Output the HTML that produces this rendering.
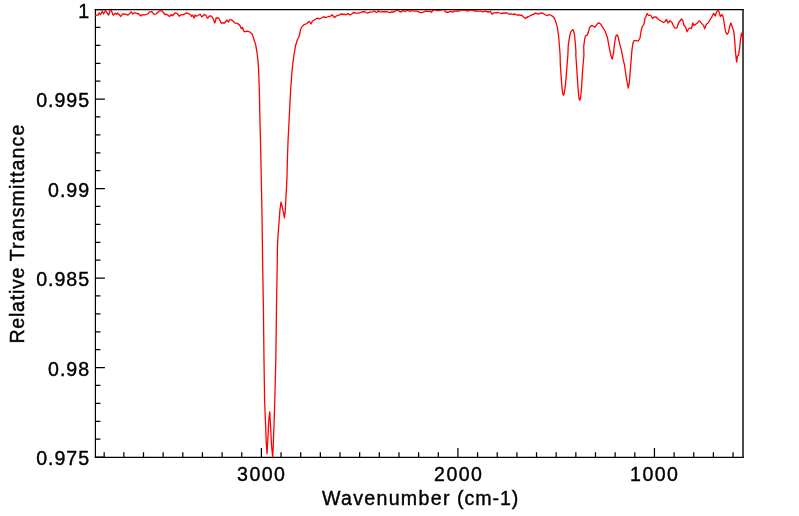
<!DOCTYPE html>
<html lang="en">
<head>
<meta charset="utf-8">
<title>IR spectrum</title>
<style>
html,body{margin:0;padding:0;background:#fff;}
body{width:799px;height:516px;position:relative;overflow:hidden;font-family:"Liberation Sans",sans-serif;color:#000;-webkit-text-stroke:0.4px #000;}
svg{position:absolute;left:0;top:0;}
.yl,.xl,.xt{will-change:transform;}
.yl{position:absolute;left:0;width:90px;height:24px;line-height:24px;text-align:right;font-size:19.6px;letter-spacing:0.95px;margin-right:-0.95px;white-space:nowrap;}
.xl{position:absolute;top:462px;width:80px;height:24px;line-height:24px;text-align:center;font-size:19.6px;letter-spacing:1.4px;text-indent:1.4px;white-space:nowrap;}
.xt{position:absolute;left:219.7px;top:486px;width:400px;height:24px;line-height:24px;text-align:center;font-size:19.6px;letter-spacing:1.19px;text-indent:1.19px;white-space:nowrap;}
.yt{position:absolute;left:17px;top:233.5px;width:0;height:0;}
.yt .rot{position:absolute;left:-150px;top:-12px;width:300px;height:24px;line-height:24px;text-align:center;font-size:19.6px;letter-spacing:0.93px;text-indent:0.93px;white-space:nowrap;transform:rotate(-90deg);transform-origin:50% 50%;}
.xt .a{letter-spacing:1.3px;}
.xt .b{letter-spacing:0.95px;}
.xt{word-spacing:-0.4px;}
.yt .a{letter-spacing:0.75px;}
.yt .b{letter-spacing:1.11px;}
.yt .rot{word-spacing:-0.9px;}
</style>
</head>
<body>
<svg width="799" height="516" viewBox="0 0 799 516">
<rect x="0" y="0" width="799" height="516" fill="#ffffff"/>
<defs><clipPath id="pc"><rect x="94.9" y="9.9" width="648.1" height="447.7"/></clipPath></defs>
<path d="M733.05,457.30v-5M713.40,457.30v-5M693.74,457.30v-5M674.09,457.30v-5M654.44,457.30v-9.3M634.79,457.30v-5M615.14,457.30v-5M595.48,457.30v-5M575.83,457.30v-5M556.18,457.30v-5M536.53,457.30v-5M516.88,457.30v-5M497.22,457.30v-5M477.57,457.30v-5M457.92,457.30v-9.3M438.27,457.30v-5M418.62,457.30v-5M398.96,457.30v-5M379.31,457.30v-5M359.66,457.30v-5M340.01,457.30v-5M320.36,457.30v-5M300.70,457.30v-5M281.05,457.30v-5M261.40,457.30v-9.3M241.75,457.30v-5M222.10,457.30v-5M202.44,457.30v-5M182.79,457.30v-5M163.14,457.30v-5M143.49,457.30v-5M123.84,457.30v-5M104.18,457.30v-5M95.40,9.55h9.5M95.40,27.45h5M95.40,45.35h5M95.40,63.25h5M95.40,81.15h5M95.40,99.05h9.5M95.40,116.95h5M95.40,134.85h5M95.40,152.75h5M95.40,170.65h5M95.40,188.55h9.5M95.40,206.45h5M95.40,224.35h5M95.40,242.25h5M95.40,260.15h5M95.40,278.05h9.5M95.40,295.95h5M95.40,313.85h5M95.40,331.75h5M95.40,349.65h5M95.40,367.55h9.5M95.40,385.45h5M95.40,403.35h5M95.40,421.25h5M95.40,439.15h5M95.40,457.05h9.5" fill="none" stroke="#000" stroke-width="1.25"/>
<path d="M94.80000000000001,9.6H743.7" stroke="#000" stroke-width="1.1" fill="none"/>
<path d="M95.4,9.1V458.0" stroke="#000" stroke-width="1.2" fill="none"/>
<path d="M94.80000000000001,457.3H743.7" stroke="#000" stroke-width="1.25" fill="none"/>
<path d="M743.0,9.1V458.0" stroke="#111" stroke-width="1.5" fill="none"/>
<path d="M94.98,15.18 L98.08,15.18 L99.24,12.85 L100.40,14.79 L102.34,11.30 L103.50,14.02 L105.44,10.72 L106.60,12.08 L108.54,15.18 L110.29,10.14 L111.26,10.33 L113.19,15.18 L115.13,13.24 L116.68,14.40 L117.50,13.00 L119.00,14.50 L120.80,16.50 L122.50,13.80 L125.00,14.20 L128.00,15.00 L129.50,13.80 L131.20,11.80 L132.80,14.00 L135.00,12.50 L137.00,13.50 L139.00,14.00 L140.80,16.00 L142.50,14.50 L144.00,15.20 L146.00,14.50 L148.00,13.80 L149.50,11.80 L152.00,11.60 L154.00,14.50 L156.00,13.80 L158.50,11.80 L161.00,10.20 L163.00,12.00 L165.00,14.50 L167.00,14.50 L169.50,16.50 L171.50,14.50 L172.50,15.80 L174.00,14.00 L175.50,12.80 L177.50,14.00 L179.20,16.20 L181.00,14.80 L184.00,14.50 L186.50,12.80 L189.00,13.80 L190.50,14.50 L191.50,16.50 L192.50,15.00 L194.00,18.00 L195.00,15.00 L196.20,16.20 L198.00,15.50 L200.00,14.20 L201.80,17.00 L204.50,14.50 L206.00,15.50 L207.50,18.20 L209.50,16.00 L211.50,16.20 L213.00,18.50 L214.80,23.00 L216.20,18.00 L218.50,17.80 L219.80,20.00 L221.00,23.00 L223.00,22.80 L224.50,23.00 L227.00,20.00 L228.50,22.00 L230.00,19.50 L232.00,20.20 L234.00,22.00 L235.00,23.02 L237.33,23.37 L239.65,25.12 L241.40,28.60 L242.56,27.44 L243.72,30.93 L244.88,31.86 L247.21,31.16 L250.12,32.09 L252.44,34.42 L254.19,40.23 L255.70,44.88 L257.09,53.02 L258.02,61.16 L258.60,70.00 L259.30,89.00 L259.90,118.00 L260.50,141.00 L260.90,160.00 L261.50,189.00 L262.05,218.00 L262.60,260.00 L263.40,308.00 L264.00,360.00 L264.60,400.00 L265.50,423.00 L266.30,444.00 L267.00,453.80 L267.80,440.00 L268.80,420.00 L269.70,411.80 L270.50,425.00 L271.50,445.00 L272.70,457.20 L273.30,444.00 L274.10,423.00 L274.80,400.00 L275.80,360.00 L276.50,308.00 L277.30,260.00 L277.40,249.10 L277.90,237.50 L278.90,224.00 L279.90,210.40 L281.00,202.20 L282.20,206.50 L283.40,212.30 L284.50,217.75 L285.30,210.40 L286.10,194.90 L286.90,179.40 L287.40,160.00 L288.00,141.40 L289.20,118.00 L290.70,89.00 L292.00,71.60 L293.14,61.16 L294.30,53.02 L295.47,46.05 L297.21,40.23 L298.95,36.74 L299.88,33.26 L300.70,29.19 L301.86,26.86 L304.19,24.53 L307.00,23.50 L308.50,21.80 L309.50,21.50 L311.00,24.00 L312.50,21.00 L315.00,19.50 L317.50,18.20 L319.50,18.80 L321.50,18.00 L323.50,16.80 L326.00,17.50 L328.50,16.50 L330.50,16.20 L332.00,14.80 L334.50,17.50 L336.50,15.80 L339.00,15.20 L341.00,14.00 L344.00,14.50 L346.50,14.50 L348.00,13.50 L350.00,15.00 L352.00,13.80 L353.50,12.50 L356.00,13.20 L359.00,13.20 L362.00,12.00 L364.50,11.50 L367.50,13.20 L370.00,12.20 L372.50,11.80 L374.50,11.00 L375.81,12.14 L376.98,12.33 L378.33,10.78 L379.69,11.95 L381.63,11.95 L383.57,11.75 L385.50,11.75 L387.44,11.95 L388.99,12.33 L390.54,12.72 L391.71,11.75 L393.26,12.14 L394.81,11.36 L396.36,10.40 L397.52,10.01 L398.68,10.78 L400.00,11.75 L401.59,11.75 L403.14,10.20 L404.30,11.17 L405.27,11.56 L406.24,10.78 L407.40,10.20 L408.95,10.98 L410.50,11.36 L411.67,10.40 L413.22,10.78 L415.16,11.17 L417.09,11.17 L418.64,11.95 L420.58,12.53 L422.13,12.53 L423.68,11.95 L425.00,11.36 L426.55,11.11 L428.49,11.30 L430.04,11.11 L431.40,12.27 L432.75,10.72 L434.30,9.75 L436.24,10.33 L438.57,10.72 L440.50,10.14 L442.05,9.56 L443.60,9.36 L444.38,9.75 L445.16,11.69 L446.71,12.27 L448.26,12.27 L449.81,11.69 L451.36,11.30 L452.71,12.27 L454.07,11.11 L455.00,10.91 L457.00,11.00 L459.00,11.20 L461.00,10.00 L465.00,10.00 L467.50,11.20 L471.00,9.80 L474.00,11.00 L478.00,11.20 L481.00,11.20 L483.00,11.80 L485.00,11.20 L488.00,12.00 L490.50,11.50 L492.00,14.20 L494.00,12.80 L498.00,12.50 L501.00,13.50 L504.00,13.00 L507.00,13.00 L509.00,14.20 L511.00,13.80 L513.00,14.50 L515.00,14.00 L517.00,15.20 L519.00,14.80 L520.50,15.50 L521.50,15.00 L523.50,17.00 L525.50,18.50 L527.50,16.80 L527.33,17.56 L530.23,15.70 L533.14,14.30 L535.47,13.14 L538.37,14.07 L541.28,12.91 L543.60,13.72 L545.93,15.23 L547.67,15.47 L549.42,14.53 L552.33,16.05 L554.07,17.79 L555.81,21.86 L557.33,27.09 L558.49,35.23 L559.30,44.53 L560.12,55.00 L560.31,64.69 L560.99,74.38 L561.67,84.07 L562.25,90.37 L562.83,93.95 L563.41,95.21 L564.09,93.95 L564.67,90.37 L565.54,84.07 L566.32,74.38 L567.09,64.69 L567.87,55.00 L568.26,45.70 L569.42,37.56 L570.58,32.33 L572.09,30.00 L573.26,30.00 L574.42,34.07 L575.23,42.21 L575.93,51.51 L575.81,55.00 L576.49,64.69 L577.17,74.38 L577.95,86.98 L578.53,94.24 L579.11,98.80 L579.69,100.35 L580.37,98.80 L580.95,94.24 L581.63,86.98 L582.31,74.38 L583.08,64.69 L583.95,55.00 L583.72,46.86 L584.53,39.88 L585.47,35.81 L587.21,35.23 L588.37,32.33 L589.53,27.67 L591.28,25.70 L593.02,25.93 L594.77,27.09 L595.00,27.09 L596.86,24.30 L598.88,22.75 L600.89,24.30 L602.75,27.40 L605.08,31.28 L607.40,37.48 L609.26,47.56 L610.81,55.31 L612.36,59.19 L613.60,52.21 L614.84,41.36 L615.93,35.93 L617.17,34.84 L618.26,37.48 L619.81,44.46 L621.67,51.43 L623.22,59.96 L624.46,64.61 L626.01,75.47 L627.25,83.22 L628.33,88.18 L629.42,81.67 L630.66,66.16 L631.90,50.66 L632.98,42.91 L634.07,40.58 L636.09,40.58 L638.10,41.05 L639.96,38.26 L641.20,30.50 L642.29,26.63 L643.84,24.30 L644.92,19.65 L644.50,19.00 L646.00,16.50 L647.20,13.50 L648.50,15.50 L650.00,15.00 L651.00,15.80 L652.50,18.50 L654.50,16.80 L656.50,17.20 L658.50,19.50 L661.00,21.00 L663.50,22.50 L665.00,21.50 L666.50,19.50 L668.00,23.00 L670.00,20.80 L672.00,22.50 L673.50,26.00 L675.00,28.20 L677.00,27.80 L678.50,23.00 L680.00,21.00 L681.50,19.00 L682.80,20.50 L683.80,25.00 L685.50,27.00 L687.00,31.80 L688.50,29.00 L690.00,28.00 L691.50,28.50 L692.80,22.80 L694.00,25.50 L696.00,24.00 L697.50,23.00 L699.00,20.80 L700.00,21.28 L701.74,23.60 L703.49,25.35 L704.65,28.84 L706.40,24.19 L708.14,23.02 L710.47,18.95 L712.21,16.05 L713.72,13.37 L715.12,16.05 L716.86,11.40 L718.26,9.88 L719.19,12.56 L720.35,16.63 L722.09,14.53 L723.26,17.21 L724.42,24.77 L725.58,31.74 L726.98,34.30 L728.49,32.33 L729.65,26.51 L730.81,23.02 L732.33,27.09 L733.72,31.16 L734.65,39.88 L735.47,51.51 L736.28,59.65 L736.74,61.98 L737.44,56.16 L738.60,55.00 L739.77,46.86 L740.93,36.40 L741.63,33.14 L742.44,36.40 L743.02,41.63" clip-path="url(#pc)" fill="none" stroke="#ff0000" stroke-width="1.3" stroke-linejoin="round" stroke-linecap="butt"/>
</svg>
<div class="yl" style="top:-1px">1</div>
<div class="yl" style="top:88px">0.995</div>
<div class="yl" style="top:178px">0.99</div>
<div class="yl" style="top:267px">0.985</div>
<div class="yl" style="top:357px">0.98</div>
<div class="yl" style="top:446px">0.975</div>
<div class="xl" style="left:221.4px">3000</div>
<div class="xl" style="left:417.9px">2000</div>
<div class="xl" style="left:614.4px">1000</div>
<div class="xt"><span class="a">Wavenumber</span> <span class="b">(cm-1)</span></div>
<div class="yt"><div class="rot"><span class="a">Relative</span> <span class="b">Transmittance</span></div></div>
</body>
</html>
